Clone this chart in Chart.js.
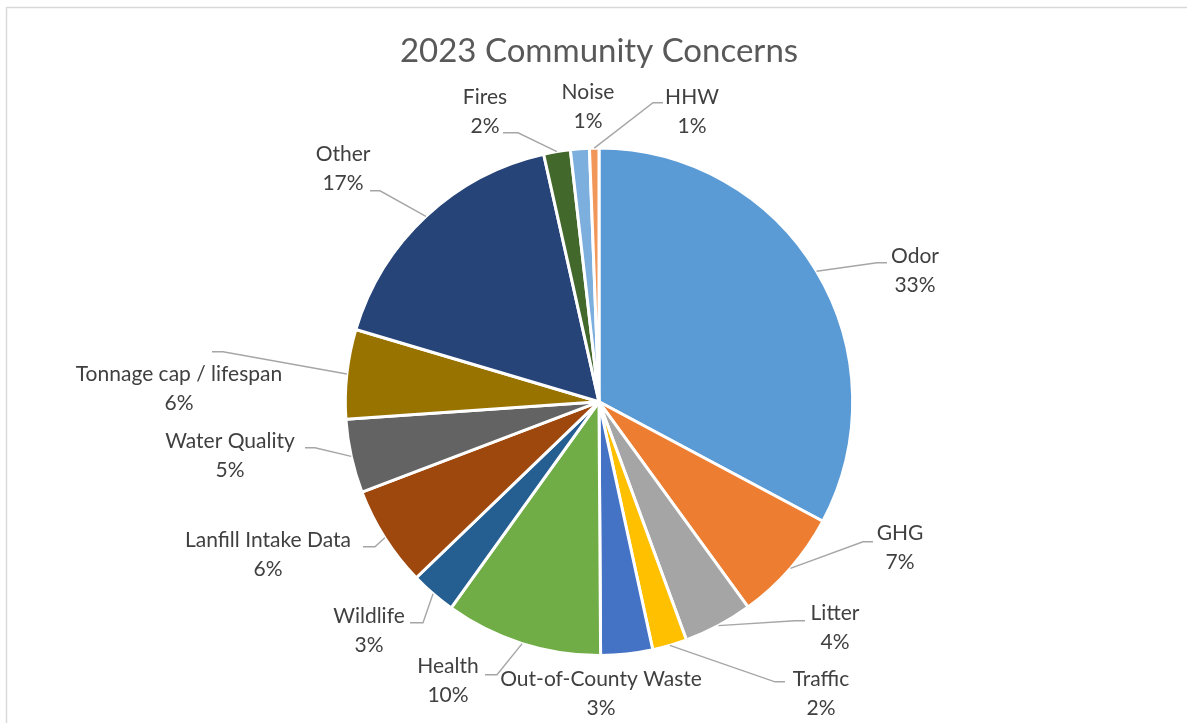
<!DOCTYPE html>
<html>
<head>
<meta charset="utf-8">
<script src="https://cdn.jsdelivr.net/npm/chart.js@4.4.1/dist/chart.umd.min.js"></script>
<style>
  html, body { margin: 0; padding: 0; background: #ffffff; overflow: hidden; }
  #wrap { width: 1187px; height: 723px; position: relative; }
</style>
</head>
<body>
<div id="wrap"><canvas id="c" width="1187" height="723"></canvas></div>
<script>
// ---- data ----
const chartTitle = '2023 Community Concerns';
const categories = ['Odor', 'GHG', 'Litter', 'Traffic', 'Out-of-County Waste', 'Health', 'Wildlife',
  'Lanfill Intake Data', 'Water Quality', 'Tonnage cap / lifespan', 'Other', 'Fires', 'Noise', 'HHW'];
const shares = [32.8, 7.2, 4.4, 2.2, 3.3, 10.0, 2.9, 6.4, 4.7, 5.7, 16.9, 1.7, 1.2, 0.6];

// ---- style ----
const sliceColors = ['#5B9BD5', '#ED7D31', '#A5A5A5', '#FFC000', '#4472C4', '#70AD47', '#255E91',
  '#9E480E', '#636363', '#997300', '#264478', '#43682B', '#7CAFDD', '#F1975A'];
const FONT = 'Lato, "Open Sans", "Liberation Sans", sans-serif';

// label layout: block centre offset from the pie centre, leader elbow offset, horizontal tail length
const labelLayout = [
  { at: [316, -131], elbow: [278, -139], tail: 10 },
  { at: [301, 146],  elbow: [264, 140],  tail: 10 },
  { at: [236, 226],  elbow: [196, 219],  tail: 10 },
  { at: [222, 292],  elbow: [176, 280],  tail: 10 },
  { at: [2, 292],    elbow: null },
  { at: [-151, 279], elbow: [-102, 273], tail: -12 },
  { at: [-230, 229], elbow: [-176, 221], tail: -13 },
  { at: [-331, 153], elbow: [-224, 145], tail: -12 },
  { at: [-369, 54],  elbow: [-284, 46],  tail: -10 },
  { at: [-420, -13], elbow: [-376, -50], tail: -11 },
  { at: [-256, -233], elbow: [-219, -211], tail: -10 },
  { at: [-114, -290], elbow: [-81, -269], tail: -15 },
  { at: [-11, -295], elbow: null },
  { at: [93, -290],  elbow: [54, -299],  tail: 10 }
];

const frame = {
  id: 'frame',
  beforeDraw(chart) {
    const ctx = chart.ctx;
    ctx.save();
    ctx.fillStyle = '#ffffff';
    ctx.fillRect(0, 0, chart.width, chart.height);
    ctx.strokeStyle = '#D9D9D9';
    ctx.lineWidth = 1.5;
    ctx.strokeRect(6.5, 7.5, chart.width + 20, chart.height + 20);
    ctx.restore();
  }
};

const outsideLabels = {
  id: 'outsideLabels',
  afterDatasetsDraw(chart) {
    const ctx = chart.ctx;
    const meta = chart.getDatasetMeta(0);
    const data = chart.data.datasets[0].data;
    const total = data.reduce((a, b) => a + b, 0);
    ctx.save();
    meta.data.forEach((arc, i) => {
      const p = arc.getProps(['x', 'y', 'startAngle', 'endAngle', 'outerRadius'], true);
      const lay = labelLayout[i];
      const mid = (p.startAngle + p.endAngle) / 2;
      const sx = p.x + Math.cos(mid) * p.outerRadius;
      const sy = p.y + Math.sin(mid) * p.outerRadius;
      if (lay.elbow) {
        const ex = p.x + lay.elbow[0], ey = p.y + lay.elbow[1];
        ctx.beginPath();
        ctx.strokeStyle = '#A6A6A6';
        ctx.lineWidth = 1.4;
        ctx.moveTo(sx, sy);
        ctx.lineTo(ex, ey);
        ctx.lineTo(ex + lay.tail, ey);
        ctx.stroke();
      }
      const cx = p.x + lay.at[0], cy = p.y + lay.at[1];
      ctx.fillStyle = '#404040';
      ctx.font = '21px ' + FONT;
      ctx.textAlign = 'center';
      ctx.textBaseline = 'middle';
      ctx.fillText(chart.data.labels[i], cx, cy - 14.5);
      ctx.fillText(Math.round(data[i] / total * 100) + '%', cx, cy + 14.5);
    });
    ctx.restore();
  }
};

new Chart(document.getElementById('c'), {
  type: 'pie',
  data: {
    labels: categories,
    datasets: [{
      data: shares,
      backgroundColor: sliceColors,
      borderColor: '#ffffff',
      borderWidth: 3
    }]
  },
  options: {
    responsive: false,
    animation: false,
    layout: { padding: { left: 343, right: 332, top: 0, bottom: 66 } },
    plugins: {
      legend: { display: false },
      tooltip: { enabled: false },
      title: {
        display: true,
        text: chartTitle,
        color: '#595959',
        font: { family: FONT, size: 33, weight: 'normal', lineHeight: 1.2 },
        padding: { top: 32, bottom: 75 }
      }
    }
  },
  plugins: [frame, outsideLabels]
});
</script>
</body>
</html>
